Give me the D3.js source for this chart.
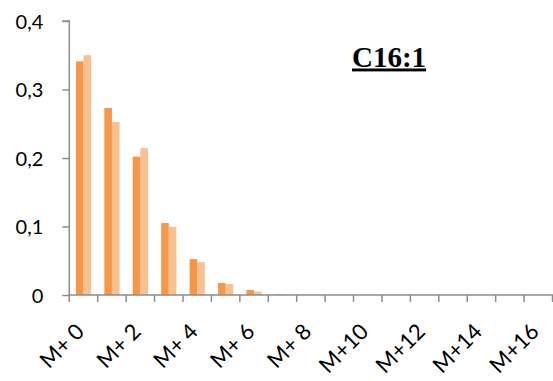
<!DOCTYPE html>
<html>
<head>
<meta charset="utf-8">
<script src="https://cdn.jsdelivr.net/npm/d3@7"></script>
<style>
  html, body { margin: 0; padding: 0; background: #fff; }
  svg { display: block; }
</style>
</head>
<body>
<svg id="chart" width="553" height="381"></svg>
<script>
const categories = ["M+ 0","M+ 1","M+ 2","M+ 3","M+ 4","M+ 5","M+ 6","M+ 7","M+ 8","M+ 9","M+10","M+11","M+12","M+13","M+14","M+15","M+16"];
const seriesNames = ["A","B"];
const seriesA = [0.341, 0.273, 0.202, 0.105, 0.0525, 0.0175, 0.0073, 0.001, 0.0003, 0, 0, 0, 0, 0, 0, 0, 0];
const seriesB = [0.350, 0.2525, 0.2145, 0.0995, 0.048, 0.016, 0.005, 0.0006, 0.0002, 0, 0, 0, 0, 0, 0, 0, 0];
const yTicks = [0, 0.1, 0.2, 0.3, 0.4];
const xLabels = ["M+ 0","M+ 2","M+ 4","M+ 6","M+ 8","M+10","M+12","M+14","M+16"];
const title = "C16:1";
const colors = ["#F79646", "#FAC090"];

(function () {
const svg = d3.select("#chart");
const mLeft = 69.3, mRight = 552.5, mTop = 21, mBottom = 295;
const axisColor = "#8c8c8c";

const x = d3.scaleBand().domain(categories).range([mLeft, mRight]).padding(0);
const xs = d3.scaleBand().domain(seriesNames).range([0, x.bandwidth()]).paddingInner(0).paddingOuter(0.87);
const y = d3.scaleLinear().domain([0, 0.4]).range([mBottom, mTop]);

// bars
const series = [seriesA, seriesB];
series.forEach((vals, si) => {
  svg.append("g").selectAll("rect").data(vals).join("rect")
    .attr("x", (d, i) => x(categories[i]) + xs(seriesNames[si]))
    .attr("y", d => y(d))
    .attr("width", xs.bandwidth())
    .attr("height", d => mBottom - y(d))
    .attr("fill", colors[si]);
});

// y axis
const yAxis = d3.axisLeft(y).tickValues(yTicks).tickSize(7).tickPadding(19)
  .tickFormat(d => d3.format(".1f")(d).replace(".", ",").replace(/^0,0$/, "0"));
const yg = svg.append("g").attr("transform", `translate(${mLeft},0)`).call(yAxis);
yg.select(".domain").attr("stroke", axisColor).attr("stroke-width", 1.5).attr("d", `M-7,${mTop}H0V${mBottom}`);
yg.selectAll(".tick line").attr("stroke", axisColor).attr("stroke-width", 1.5);
yg.selectAll(".tick text").attr("fill", "#000").style("font-family", "Lato, 'Noto Sans', sans-serif").style("font-size", "20px").attr("dy", "0.36em");

// x axis
const edges = categories.map(c => x(c)).concat([mRight]);
const xg = svg.append("g");
xg.append("line").attr("x1", mLeft).attr("x2", 553).attr("y1", mBottom).attr("y2", mBottom)
  .attr("stroke", axisColor).attr("stroke-width", 1.5);
xg.selectAll("line.tk").data(edges).join("line").attr("class", "tk")
  .attr("x1", d => d).attr("x2", d => d).attr("y1", mBottom).attr("y2", mBottom + 7)
  .attr("stroke", axisColor).attr("stroke-width", 1.5);
xg.selectAll("text").data(xLabels).join("text")
  .attr("transform", d => `translate(${x(d) + x.bandwidth() / 2 + 2},${mBottom + 38}) rotate(-45)`)
  .attr("text-anchor", "end")
  .style("font-family", "Lato, 'Noto Sans', sans-serif").style("font-size", "22px")
  .attr("fill", "#000")
  .text(d => d);

// title
svg.append("text").attr("x", 352).attr("y", 66.5)
  .style("font-family", "'Liberation Serif', 'Times New Roman', serif")
  .style("font-weight", "bold").style("font-size", "29px")
  .style("text-decoration", "underline")
  .attr("fill", "#000")
  .text(title);
})();
</script>
</body>
</html>
